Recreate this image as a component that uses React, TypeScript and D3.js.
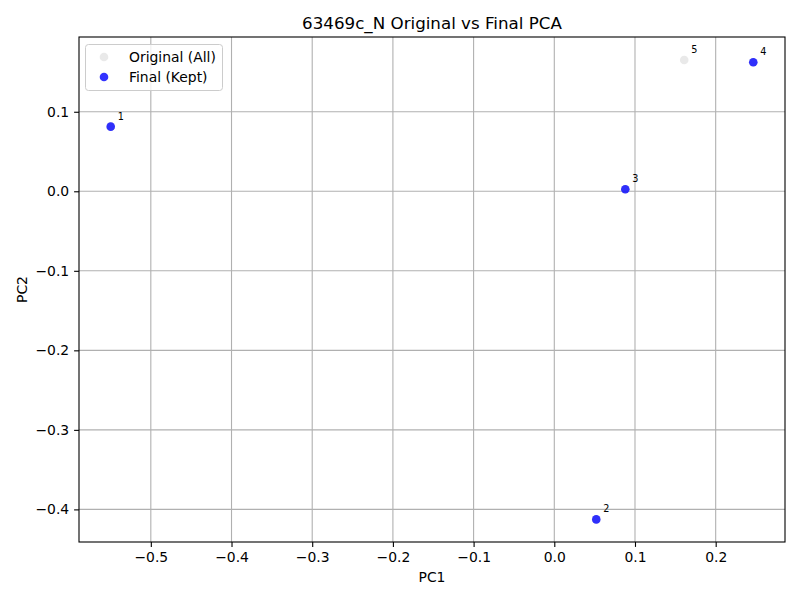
import React, { useEffect, useRef } from 'react';
import * as d3 from 'd3';

// point ids with PC coordinates
const ids = ['1', '2', '3', '4', '5'];
const pc1 = [-0.5497, 0.052, 0.088, 0.2466, 0.161];
const pc2 = [0.0813, -0.4126, 0.0025, 0.1623, 0.165];
const keptIds = ['1', '2', '3', '4'];

const xTicks = [-0.5, -0.4, -0.3, -0.2, -0.1, 0.0, 0.1, 0.2];
const yTicks = [0.1, 0.0, -0.1, -0.2, -0.3, -0.4];

const title = '63469c_N Original vs Final PCA';

export default () => {
  const svgRef = useRef<SVGSVGElement>(null);

  useEffect(() => {
    if (!svgRef.current) return;
    const W = 800, H = 600;
    const m = { left: 79, right: 15, top: 37, bottom: 58 };
    const font = 'DejaVu Sans, sans-serif';

    const svg = d3.select(svgRef.current).attr('width', W).attr('height', H);
    svg.selectAll('*').remove();
    svg.append('rect').attr('width', W).attr('height', H).attr('fill', '#fff');

    const x = d3.scaleLinear().domain([-0.589, 0.2859]).range([m.left, W - m.right]);
    const y = d3.scaleLinear().domain([-0.441, 0.194]).range([H - m.bottom, m.top]);
    const fmt = d3.format('.1f');

    // grid
    const grid = svg.append('g');
    grid.selectAll('line.gx').data(xTicks).enter().append('line')
      .attr('x1', d => x(d)).attr('x2', d => x(d))
      .attr('y1', m.top).attr('y2', H - m.bottom)
      .attr('stroke', '#b0b0b0').attr('stroke-width', 1.1);
    grid.selectAll('line.gy').data(yTicks).enter().append('line')
      .attr('y1', d => y(d)).attr('y2', d => y(d))
      .attr('x1', m.left).attr('x2', W - m.right)
      .attr('stroke', '#b0b0b0').attr('stroke-width', 1.1);

    const all = ids.map((id, i) => ({ id, x: pc1[i], y: pc2[i] }));
    const kept = all.filter(d => keptIds.includes(d.id));

    svg.append('g').selectAll('circle').data(all).enter().append('circle')
      .attr('cx', d => x(d.x)).attr('cy', d => y(d.y)).attr('r', 4.3)
      .attr('fill', 'lightgray').attr('fill-opacity', 0.5);
    svg.append('g').selectAll('circle').data(kept).enter().append('circle')
      .attr('cx', d => x(d.x)).attr('cy', d => y(d.y)).attr('r', 4.3)
      .attr('fill', 'blue').attr('fill-opacity', 0.8);

    svg.append('g').selectAll('text').data(all).enter().append('text')
      .attr('x', d => x(d.x) + 7).attr('y', d => y(d.y) - 7)
      .attr('font-family', font).attr('font-size', 9.7).attr('fill', '#000')
      .text(d => d.id);

    // axes
    const xAxis = d3.axisBottom(x).tickValues(xTicks).tickFormat(d => fmt(d as number)).tickSize(4.9).tickPadding(4.9);
    const yAxis = d3.axisLeft(y).tickValues(yTicks).tickFormat(d => fmt(d as number)).tickSize(4.9).tickPadding(4.9);
    const gx = svg.append('g').attr('transform', `translate(0,${H - m.bottom})`).call(xAxis);
    const gy = svg.append('g').attr('transform', `translate(${m.left},0)`).call(yAxis);
    [gx, gy].forEach(g => {
      g.select('.domain').remove();
      g.selectAll('text').attr('font-family', font).attr('font-size', 13.9).attr('fill', '#000');
      g.selectAll('line').attr('stroke', '#000').attr('stroke-width', 1.1);
    });

    svg.append('rect').attr('x', m.left).attr('y', m.top)
      .attr('width', W - m.left - m.right).attr('height', H - m.top - m.bottom)
      .attr('fill', 'none').attr('stroke', '#000').attr('stroke-width', 1.1);

    svg.append('text').attr('x', (m.left + W - m.right) / 2).attr('y', 29)
      .attr('text-anchor', 'middle').attr('font-family', font).attr('font-size', 16.7)
      .text(title);
    svg.append('text').attr('x', (m.left + W - m.right) / 2).attr('y', 582)
      .attr('text-anchor', 'middle').attr('font-family', font).attr('font-size', 13.9)
      .text('PC1');
    svg.append('text').attr('transform', `translate(27,${(m.top + H - m.bottom) / 2}) rotate(-90)`)
      .attr('text-anchor', 'middle').attr('font-family', font).attr('font-size', 13.9)
      .text('PC2');

    // legend
    const lg = svg.append('g');
    lg.append('rect').attr('x', 85.5).attr('y', 44.5).attr('width', 137).attr('height', 46)
      .attr('rx', 3).attr('fill', '#fff').attr('fill-opacity', 0.8)
      .attr('stroke', '#cccccc').attr('stroke-width', 1);
    const entries = [
      { label: 'Original (All)', fill: 'lightgray', op: 0.5 },
      { label: 'Final (Kept)', fill: 'blue', op: 0.8 },
    ];
    entries.forEach((e, i) => {
      lg.append('circle').attr('cx', 104).attr('cy', 57 + i * 20).attr('r', 4.3)
        .attr('fill', e.fill).attr('fill-opacity', e.op);
      lg.append('text').attr('x', 129).attr('y', 62 + i * 20)
        .attr('font-family', font).attr('font-size', 13.9).text(e.label);
    });
  }, []);

  return <svg ref={svgRef} style={{ position: 'absolute', left: 0, top: 0, display: 'block' }} />;
};
